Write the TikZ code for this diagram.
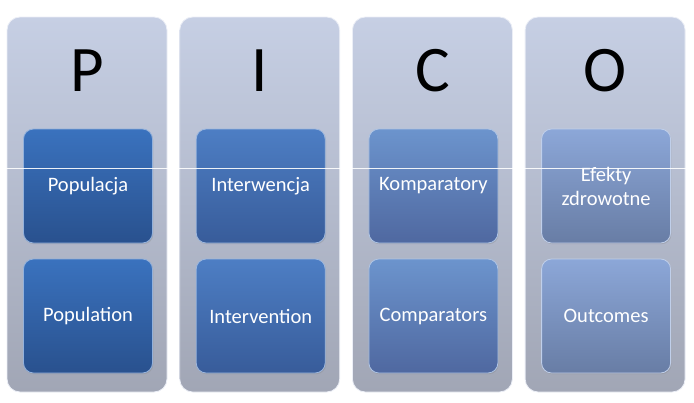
\documentclass[tikz,border=0pt]{standalone}
\usepackage{fontspec}
\setmainfont{Carlito}
\usetikzlibrary{positioning,shadows}

\definecolor{colTop}{HTML}{C6CFE4}
\definecolor{colBot}{HTML}{A1A6B5}
\definecolor{pTop}{HTML}{3A72BE}
\definecolor{pBot}{HTML}{29518E}
\definecolor{iTop}{HTML}{4D7EC4}
\definecolor{iBot}{HTML}{385C9A}
\definecolor{cTop}{HTML}{6C94CD}
\definecolor{cBot}{HTML}{4F68A0}
\definecolor{oTop}{HTML}{8CA7D8}
\definecolor{oBot}{HTML}{687DA5}

\begin{document}
\begin{tikzpicture}[x=1pt,y=-1pt,
  column/.style={rectangle,rounded corners=13pt,inner sep=0pt,minimum width=160pt,minimum height=375pt,
    top color=colTop,bottom color=colBot,draw=white!65!colTop,line width=0.8pt},
  letter/.style={inner sep=0pt,font=\fontsize{65}{65}\selectfont},
  card/.style={rectangle,rounded corners=10pt,inner sep=0pt,minimum width=129pt,minimum height=114pt,
    text=white,align=center,font=\fontsize{20.5}{24}\selectfont,line width=0.8pt,
    drop shadow={shadow xshift=0.8pt,shadow yshift=-1.2pt,opacity=0.3}},
  glare/.style={white,line width=0.9pt,opacity=0.9}]

  \useasboundingbox (0,0) rectangle (694,402);

  \foreach \i/\lt/\ta/\tb/\ct/\cb in {1/P/Populacja/Population/pTop/pBot,
      2/I/Interwencja/Intervention/iTop/iBot,
      3/C/Komparatory/Comparators/cTop/cBot,
      4/O/{Efekty\\zdrowotne}/Outcomes/oTop/oBot} {
    \path
      ({87+172.7*(\i-1)},204.5) node[column] (col\i) {}
      ({87+172.7*(\i-1)},71) node[letter] (let\i) {\lt}
      ({88+172.7*(\i-1)},186) node[card,top color=\ct,bottom color=\cb,draw=\ct!55!white] (up\i) {\ta}
      ({88+172.7*(\i-1)},316) node[card,top color=\ct,bottom color=\cb,draw=\ct!55!white] (low\i) {\tb};
  }

  \coordinate (gl) at (0,168);
  \coordinate (gr) at (694,168);
  \draw[glare] (gl) -- (gr);
\end{tikzpicture}
\end{document}
